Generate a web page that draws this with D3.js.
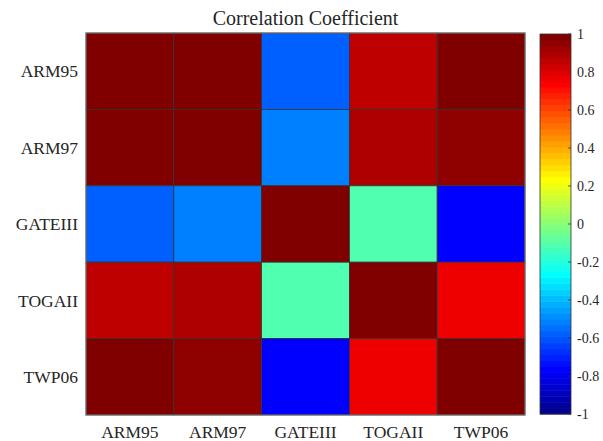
<!DOCTYPE html>
<html><head><meta charset="utf-8">
<script src="https://cdn.jsdelivr.net/npm/d3@7"></script>
<style>body{margin:0;background:#fff;} svg{display:block;}</style>
</head><body><svg id="c" width="603" height="441"></svg>
<script>
const categories = ["ARM95","ARM97","GATEIII","TOGAII","TWP06"];
const rowARM95   = [1.00, 0.98, -0.58, 0.86, 0.98];
const rowARM97   = [0.98, 1.00, -0.52, 0.89, 0.95];
const rowGATEIII = [-0.58, -0.52, 1.00, -0.11, -0.76];
const rowTOGAII  = [0.86, 0.89, -0.11, 1.00, 0.77];
const rowTWP06   = [0.98, 0.95, -0.76, 0.77, 1.00];
const colorbarTicks = [1, 0.8, 0.6, 0.4, 0.2, 0, -0.2, -0.4, -0.6, -0.8, -1];
const title = "Correlation Coefficient";

const FONT = "Liberation Serif";
const rows = [rowARM95, rowARM97, rowGATEIII, rowTOGAII, rowTWP06];
const cells = [];
rows.forEach((r, i) => r.forEach((v, j) => cells.push({row: categories[i], col: categories[j], v})));

// MATLAB jet(64)
const N = 64;
function jet(i) {
  let r, g, b;
  if (i <= 8) { r = 0; g = 0; b = (i + 8) / 16; }
  else if (i <= 24) { r = 0; g = (i - 8) / 16; b = 1; }
  else if (i <= 40) { r = (i - 24) / 16; g = 1; b = 1 - (i - 24) / 16; }
  else if (i <= 56) { r = 1; g = 1 - (i - 40) / 16; b = 0; }
  else { r = 1 - (i - 56) / 16; g = 0; b = 0; }
  return d3.rgb(r * 255, g * 255, b * 255).formatHex();
}
const jetColors = d3.range(1, N + 1).map(jet);
const color = d3.scaleQuantize().domain([-1, 1]).range(jetColors);

const svg = d3.select("#c");
const L = 86, R = 525, T = 33, B = 415;
const x = d3.scaleBand().domain(categories).range([L, R]);
const y = d3.scaleBand().domain(categories).range([T, B]);

svg.selectAll("rect.cell").data(cells).join("rect")
  .attr("class", "cell")
  .attr("x", d => x(d.col)).attr("y", d => y(d.row))
  .attr("width", x.bandwidth()).attr("height", y.bandwidth())
  .attr("fill", d => color(d.v))
  .attr("stroke", "#333").attr("stroke-width", 0.8);

svg.append("rect").attr("x", L).attr("y", T).attr("width", R - L).attr("height", B - T)
  .attr("fill", "none").attr("stroke", "#7a7a7a").attr("stroke-width", 1);

function txt(sel) { return sel.attr("font-family", FONT).attr("fill", "#262626"); }

txt(svg.append("g").selectAll("text").data(categories).join("text"))
  .attr("x", 78).attr("y", d => y(d) + y.bandwidth() / 2)
  .attr("dy", "0.35em").attr("text-anchor", "end")
  .attr("font-size", 17.5).text(d => d);
txt(svg.append("g").selectAll("text").data(categories).join("text"))
  .attr("x", d => x(d) + x.bandwidth() / 2).attr("y", 438)
  .attr("text-anchor", "middle")
  .attr("font-size", 17.5).text(d => d);

txt(svg.append("text")).attr("x", (L + R) / 2).attr("y", 25).attr("text-anchor", "middle")
  .attr("font-size", 20).text(title);

// colorbar
const cbL = 540, cbW = 31;
const cy = d3.scaleLinear().domain([-1, 1]).range([B - 1, T + 1]);
const step = 2 / N;
svg.append("g").selectAll("rect").data(jetColors).join("rect")
  .attr("x", cbL).attr("width", cbW)
  .attr("y", (c, i) => cy(-1 + (i + 1) * step))
  .attr("height", (c, i) => cy(-1 + i * step) - cy(-1 + (i + 1) * step) + 0.5)
  .attr("fill", c => c);
svg.append("rect").attr("x", cbL).attr("y", cy(1)).attr("width", cbW).attr("height", cy(-1) - cy(1))
  .attr("fill", "none").attr("stroke", "#333").attr("stroke-width", 0.8);
const cg = svg.append("g");
cg.selectAll("line").data(colorbarTicks).join("line")
  .attr("x1", cbL + cbW - 3).attr("x2", cbL + cbW)
  .attr("y1", d => cy(d)).attr("y2", d => cy(d))
  .attr("stroke", "#333").attr("stroke-width", 0.8);
txt(cg.selectAll("text").data(colorbarTicks).join("text"))
  .attr("x", cbL + cbW + 6).attr("y", d => cy(d)).attr("dy", "0.35em")
  .attr("font-size", 14).text(d => String(d));
</script></body></html>
